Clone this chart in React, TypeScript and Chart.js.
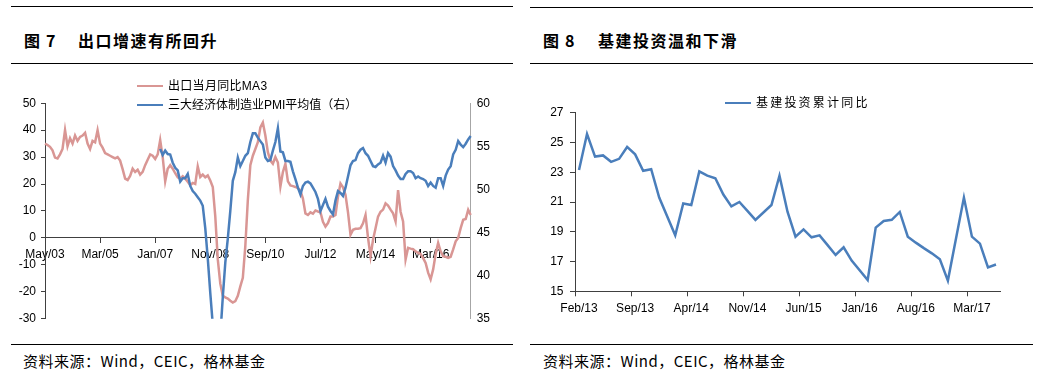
import React, { useEffect, useRef } from 'react';
import { Chart, registerables } from 'chart.js';

Chart.register(...registerables);

const FONT = "'Liberation Sans', Arial, 'Noto Sans CJK SC', sans-serif";
const CJK = "'Noto Sans CJK SC', 'Liberation Sans', sans-serif";
const AXIS_DARK = '#404040';
const AXIS_LIGHT = '#A6A6A6';
const RED = '#D99694';
const BLUE = '#4A7EBB';

const MONTHS = ['Jan', 'Feb', 'Mar', 'Apr', 'May', 'Jun', 'Jul', 'Aug', 'Sep', 'Oct', 'Nov', 'Dec'];
function monthLabels(startYear: number, startMonth: number, count: number): string[] {
  const out: string[] = [];
  for (let i = 0; i < count; i++) {
    const m = startMonth + i;
    const y = startYear + Math.floor(m / 12);
    out.push(MONTHS[m % 12] + '/' + String(y % 100).padStart(2, '0'));
  }
  return out;
}

// ---- Figure 7: exports (May/03 .. Jul/17) ----
const exportMonths = monthLabels(2003, 4, 171);
const exportTickEvery = 22;
const exportMA3 = [
  35, 34.5, 33.8, 32.5, 29.8, 29.5, 31, 33, 40, 34,
  37, 35, 38, 36, 37.5, 38, 39, 35, 33, 36,
  35.5, 40, 35, 33.5, 31.5, 31, 30.5, 30, 29.5, 30,
  28.7, 25.5, 22, 21.5, 23, 25.7, 24.5, 25.3, 23.5, 24.5,
  27, 29, 31, 30.5, 29.3, 31, 36.3, 30, 21, 25.7,
  27, 25.7, 24, 22.5, 22, 22.9, 22, 20.8, 19.6, 20.4,
  20, 26.5, 22.6, 23.5, 22.5, 23.2, 21.3, 18.9, 8, -8,
  -17, -21.5, -22.1, -22.5, -23.3, -24, -23.5, -21.5, -18, -14.8,
  -3, 14, 27, 30.5, 33, 35.5, 41, 42.8, 38, 31.8,
  28.7, 27.5, 30, 28, 19, 24.4, 27.5, 21, 19.5, 19.2,
  18.9, 18.5, 17.5, 14.6, 9.1, 8.5, 9.5, 9, 10.2, 9.8,
  9.5, 6, 4.2, 5.5, 7.9, 7.9, 8.5, 15.3, 20.2, 18.8,
  16, 9.5, 1.2, 3, 3.4, 3.4, 3.6, 5.4, 8.5, 0,
  -6.8, -0.7, 3.6, 7.9, 9.7, 10.5, 12.8, 12, 10.5, 9.1,
  6.1, 17.7, 9.7, 6.1, -8, -3.7, -4, -4.2, -5, -5.6,
  -6, -7.5, -9.3, -12.9, -15.4, -11.7, -6, -1.9, -5, -6.8,
  -7, -7.4, -7, -4.3, -1.3, 0, 3.6, 6.7, 7, 10.4,
  8.5,
];
const pmiFirstMonth = 'Mar/07';
const pmiAvg = [
  54.7, 54.0, 54.5, 54.1,
  54.05, 53.1, 52.5, 52.2, 50.9, 51.3, 51.3, 51.8, 50.4, 49.8,
  49.5, 49.1, 48.7, 48.1, 45.5, 42, 38, 34.3, 33, 32.5,
  33, 37.5, 41.5, 44.3, 47.5, 51, 52, 53.7, 52.7, 53.3,
  53.9, 54.2, 55.5, 56.5, 56.5, 56, 55.6, 55.2, 53.7, 53.3,
  53.4, 54.5, 55.5, 57.1, 54.4, 54.3, 53.3, 53.3, 53.2, 52.1,
  51.2, 50.2, 49.4, 50.4, 50.8, 50.9, 50.7, 50.2, 49.7, 48.9,
  47.5, 48.2, 48.9, 48, 47.5, 47.1, 48.7, 49.8, 49.6, 49.25,
  50.2, 51.5, 52.8, 53.3, 53.4, 54.2, 54.6, 54.8, 54.2, 53.9,
  53.3, 52.7, 52.6, 52.9, 53.1, 53.9, 53.1, 54.2, 53.8, 52.7,
  52.2, 51.6, 51.2, 51.2, 51.8, 52.1, 52.1, 51.9, 51.3, 51.5,
  51.3, 51.2, 51, 50.4, 50.8, 50.4, 50.2, 51.3, 51.3, 50.4,
  51.6, 52.3, 52.7, 54.05, 54.6, 55.6, 55.2, 54.9, 55.3, 55.8,
  56.2,
];

// ---- Figure 8: infrastructure investment YTD yoy (Feb/13 .. Jun/17), January not published ----
const infraMonths = monthLabels(2013, 1, 53);
const infraTickEvery = 7;
const infraYoY = [
  23.15, 25.57, 24.05, 24.13, 23.7, 23.9, 24.7, 24.2, 23.1, 23.2,
  21.3, null, 18.76, 20.9, 20.8, 23.06, 22.77, 22.6, 21.5, 20.7,
  21.0, 20.4, 19.8, null, 20.8, 22.77, 20.35, 18.67, 19.16, 18.63,
  18.76, 18.1, 17.44, 17.96, 17.06, null, 15.76, 19.28, 19.72, 19.8,
  20.33, 18.67, 18.27, 17.9, 17.55, 17.15, 15.72, null, 21.3, 18.67,
  18.2, 16.6, 16.8,
];

const tickFont = { size: 12, family: FONT };

function ExportChart() {
  const ref = useRef<HTMLCanvasElement | null>(null);
  useEffect(() => {
    if (!ref.current) return;
    const pmiStart = exportMonths.indexOf(pmiFirstMonth);
    const chart = new Chart(ref.current, {
      type: 'line',
      data: {
        labels: exportMonths,
        datasets: [
          {
            label: '出口当月同比MA3',
            data: exportMA3,
            borderColor: RED,
            borderWidth: 2.5,
            pointRadius: 0,
            tension: 0,
            yAxisID: 'y',
            order: 2,
          },
          {
            label: '三大经济体制造业PMI平均值（右）',
            data: pmiAvg.map((v, i) => ({ x: exportMonths[pmiStart + i], y: v })),
            borderColor: BLUE,
            borderWidth: 2.5,
            pointRadius: 0,
            tension: 0,
            yAxisID: 'y1',
            order: 1,
          },
        ],
      },
      options: {
        animation: false,
        responsive: false,
        maintainAspectRatio: false,
        layout: { padding: { left: 5, right: 14.3, top: 11, bottom: 21.3 } },
        plugins: { legend: { display: false }, tooltip: { enabled: false } },
        scales: {
          x: {
            type: 'category',
            position: { y: 0 } as any,
            offset: false,
            grid: {
              drawOnChartArea: false,
              drawTicks: true,
              tickLength: 5,
              tickColor: (ctx: any) => (ctx.index % exportTickEvery === 0 ? AXIS_DARK : 'rgba(0,0,0,0)'),
            },
            border: { color: AXIS_DARK, width: 1 },
            ticks: {
              autoSkip: false,
              maxRotation: 0,
              minRotation: 0,
              padding: 5,
              color: '#000',
              font: tickFont,
              callback: (_v: any, i: number) => (i % exportTickEvery === 0 ? exportMonths[i] : ''),
            },
          },
          y: {
            position: 'left',
            min: -30,
            max: 50,
            ticks: { stepSize: 10, padding: 5, color: '#000', font: tickFont },
            grid: { drawOnChartArea: false, tickLength: 4, tickColor: AXIS_DARK },
            border: { color: AXIS_DARK, width: 1 },
            afterFit: (s: any) => { s.width = 40; },
          },
          y1: {
            position: 'right',
            min: 35,
            max: 60,
            ticks: { stepSize: 5, padding: 6, color: '#000', font: tickFont },
            grid: { drawOnChartArea: false, drawTicks: false },
            border: { color: AXIS_LIGHT, width: 1 },
            afterFit: (s: any) => { s.width = 35; },
          },
        },
      },
    });
    return () => chart.destroy();
  }, []);
  return <canvas ref={ref} width={520} height={250} style={{ position: 'absolute', left: 0, top: 90, width: 520, height: 250 }} />;
}

function InfraChart() {
  const ref = useRef<HTMLCanvasElement | null>(null);
  useEffect(() => {
    if (!ref.current) return;
    const chart = new Chart(ref.current, {
      type: 'line',
      data: {
        labels: infraMonths,
        datasets: [
          {
            label: '基建投资累计同比',
            data: infraYoY,
            borderColor: BLUE,
            borderWidth: 2.5,
            pointRadius: 0,
            tension: 0,
            spanGaps: true,
          },
        ],
      },
      options: {
        animation: false,
        responsive: false,
        maintainAspectRatio: false,
        layout: { padding: { left: 5, right: 33, top: 22.7, bottom: 0 } },
        plugins: { legend: { display: false }, tooltip: { enabled: false } },
        scales: {
          x: {
            type: 'category',
            offset: true,
            grid: {
              offset: true,
              drawOnChartArea: false,
              drawTicks: true,
              tickLength: 5,
              tickColor: (ctx: any) => (ctx.index % infraTickEvery === 0 ? AXIS_DARK : 'rgba(0,0,0,0)'),
            },
            border: { color: AXIS_DARK, width: 1 },
            ticks: {
              autoSkip: false,
              maxRotation: 0,
              minRotation: 0,
              padding: 5,
              color: '#000',
              font: tickFont,
              callback: (_v: any, i: number) => (i % infraTickEvery === 0 ? infraMonths[i] : ''),
            },
            afterFit: (s: any) => { s.height = 48.7; },
          },
          y: {
            position: 'left',
            min: 15,
            max: 27,
            ticks: { stepSize: 2, padding: 6.5, color: '#000', font: tickFont },
            grid: { drawOnChartArea: false, tickLength: 5, tickColor: AXIS_DARK },
            border: { color: AXIS_DARK, width: 1 },
            afterFit: (s: any) => { s.width = 40; },
          },
        },
      },
    });
    return () => chart.destroy();
  }, []);
  return <canvas ref={ref} width={503} height={250} style={{ position: 'absolute', left: 530, top: 90, width: 503, height: 250 }} />;
}

const abs = (extra: React.CSSProperties): React.CSSProperties => ({ position: 'absolute', ...extra });

function Rule({ x, y, w }: { x: number; y: number; w: number }) {
  return <div style={abs({ left: x, top: y, width: w, height: 1, background: '#000' })} />;
}

function Txt({ x, y, size, bold, children, spacing }: { x: number; y: number; size: number; bold?: boolean; children: React.ReactNode; spacing?: number }) {
  return (
    <div
      style={abs({
        left: x,
        top: y - size * 0.75,
        height: size * 1.5,
        lineHeight: `${size * 1.5}px`,
        fontSize: size,
        fontWeight: bold ? 700 : 400,
        fontFamily: CJK,
        letterSpacing: spacing ?? 0,
        whiteSpace: 'nowrap',
        color: '#000',
      })}
    >
      {children}
    </div>
  );
}

function LegendItem({ x, y, color, text, spacing }: { x: number; y: number; color: string; text: string; spacing?: number }) {
  return (
    <>
      <div style={abs({ left: x, top: y - 1.25, width: 26, height: 2.5, background: color })} />
      <div
        style={abs({
          left: x + 31,
          top: y - 9,
          height: 18,
          lineHeight: '18px',
          fontSize: 12,
          fontFamily: FONT,
          letterSpacing: spacing ?? 0,
          whiteSpace: 'nowrap',
          color: '#000',
        })}
      >
        {text}
      </div>
    </>
  );
}

export default function App() {
  return (
    <div style={{ position: 'fixed', left: 0, top: 0, width: 1053, height: 380, background: '#fff', overflow: 'hidden' }}>
      {/* left panel */}
      <Rule x={11} y={6} w={502} />
      <Txt x={24} y={40} size={16} bold spacing={1.2}>图 7</Txt>
      <Txt x={78} y={40} size={16} bold spacing={1.5}>出口增速有所回升</Txt>
      <Rule x={11} y={63} w={502} />
      <ExportChart />
      <LegendItem x={137} y={86} color={RED} text="出口当月同比MA3" spacing={0.3} />
      <LegendItem x={137} y={105} color={BLUE} text="三大经济体制造业PMI平均值（右）" />
      <Rule x={11} y={344} w={502} />
      <Txt x={23} y={361} size={15} spacing={0.5}>资料来源：Wind，CEIC，格林基金</Txt>

      {/* right panel */}
      <Rule x={530} y={7} w={503} />
      <Txt x={543} y={40} size={16} bold spacing={1.2}>图 8</Txt>
      <Txt x={598} y={40} size={16} bold spacing={1.5}>基建投资温和下滑</Txt>
      <Rule x={530} y={63} w={503} />
      <InfraChart />
      <LegendItem x={725} y={103} color={BLUE} text="基建投资累计同比" spacing={2.2} />
      <Rule x={530} y={344} w={503} />
      <Txt x={543} y={361} size={15} spacing={0.5}>资料来源：Wind，CEIC，格林基金</Txt>
    </div>
  );
}
